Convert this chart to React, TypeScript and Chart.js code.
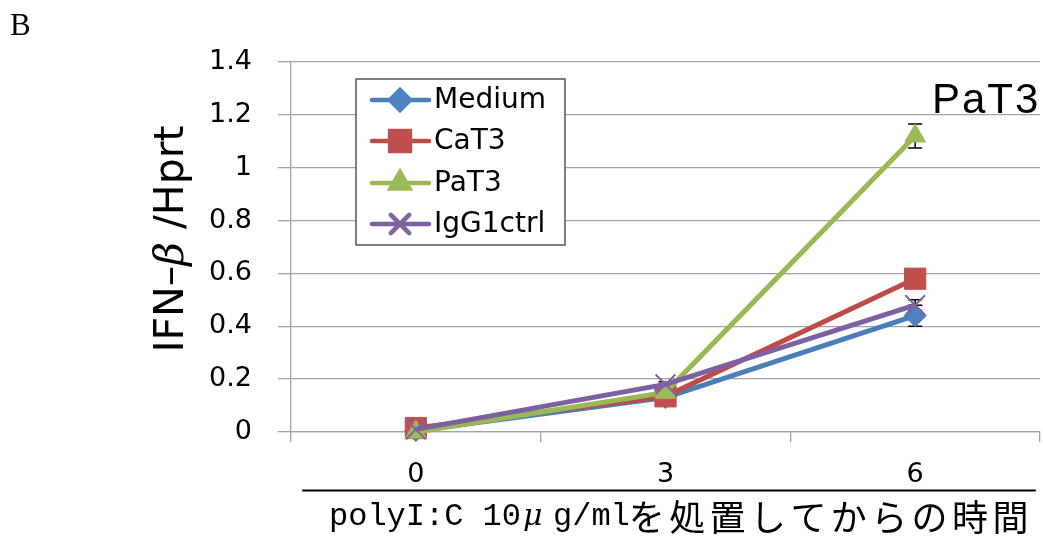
import React, { useEffect, useRef } from 'react';
import { Chart, registerables } from 'chart.js';
import { drawPoint } from 'chart.js/helpers';

Chart.register(...registerables);

// ---------- data ----------
const CATEGORIES = ['0', '3', '6'];
const SERIES_NAMES = ['Medium', 'CaT3', 'PaT3', 'IgG1ctrl'];
const MEDIUM = [0.005, 0.13, 0.44];
const CAT3 = [0.015, 0.135, 0.58];
const PAT3 = [0.0, 0.15, 1.12];
const IGG1CTRL = [0.01, 0.18, 0.48];
const MEDIUM_ERR = [0, 0.005, 0.04];
const CAT3_ERR = [0.005, 0.01, 0.01];
const PAT3_ERR = [0, 0.01, 0.045];
const IGG1CTRL_ERR = [0.005, 0.01, 0.02];
const Y_MIN = 0;
const Y_MAX = 1.4;
const Y_STEP = 0.2;
const Y_TITLE_PARTS = ['IFN\u2013', '\u03B2', ' /Hprt'];
const X_TITLE = 'polyI:C 10\u03BCg/mlを処置してからの時間';
const PANEL_LABEL = 'B';
const ANNOTATION = 'PaT3';

// ---------- styles ----------
const LINE_COLORS = ['#4A7EBB', '#BE4B48', '#98B954', '#7D60A0'];
const MARKER_COLORS = ['#4F81BD', '#C0504D', '#9BBB59', '#8064A2'];
const POINT_STYLES = ['rectRot', 'rect', 'triangle', 'crossRot'];
const POINT_RADII = [11, 15, 12, 14];
const POINT_BORDER = [1, 1, 1, 2];
const GRID = '#a2a2a2';
const SANS = '"DejaVu Sans", "Noto Sans", sans-serif';

const SERIES = [MEDIUM, CAT3, PAT3, IGG1CTRL];
const ERRORS = [MEDIUM_ERR, CAT3_ERR, PAT3_ERR, IGG1CTRL_ERR];

const errorBarPlugin = {
  id: 'errorBars',
  beforeDatasetsDraw(chart: any) {
    const { ctx, scales } = chart;
    const xs = scales.x;
    const ys = scales.y;
    ctx.save();
    ctx.strokeStyle = '#000';
    ctx.lineWidth = 1.5;
    SERIES.forEach((vals, i) => {
      vals.forEach((v, j) => {
        const e = ERRORS[i][j];
        if (!e) return;
        const x = xs.getPixelForValue(j);
        const yt = ys.getPixelForValue(v + e);
        const yb = ys.getPixelForValue(v - e);
        ctx.beginPath();
        ctx.moveTo(x, yt);
        ctx.lineTo(x, yb);
        ctx.moveTo(x - 7, yt);
        ctx.lineTo(x + 7, yt);
        ctx.moveTo(x - 7, yb);
        ctx.lineTo(x + 7, yb);
        ctx.stroke();
      });
    });
    ctx.restore();
  },
};

const decorPlugin = {
  id: 'decor',
  afterDraw(chart: any) {
    const { ctx, chartArea } = chart;
    ctx.save();

    // legend box
    const lx = chartArea.left + 65;
    const ly = chartArea.top + 17;
    const lw = 209;
    const lh = 166;
    ctx.fillStyle = '#fff';
    ctx.fillRect(lx, ly, lw, lh);
    ctx.strokeStyle = '#555';
    ctx.lineWidth = 1.5;
    ctx.strokeRect(lx, ly, lw, lh);
    const rowY = [21, 62, 104, 145];
    SERIES_NAMES.forEach((name, i) => {
      const y = ly + rowY[i];
      ctx.strokeStyle = LINE_COLORS[i];
      ctx.lineWidth = 4.5;
      ctx.lineCap = 'round';
      ctx.beginPath();
      ctx.moveTo(lx + 16, y);
      ctx.lineTo(lx + 73, y);
      ctx.stroke();
      ctx.fillStyle = MARKER_COLORS[i];
      ctx.strokeStyle = MARKER_COLORS[i];
      drawPoint(ctx, {
        pointStyle: POINT_STYLES[i],
        radius: POINT_RADII[i] - 1,
        rotation: 0,
        borderWidth: POINT_BORDER[i],
      } as any, lx + 44, y);
      ctx.fillStyle = '#000';
      ctx.font = `28px ${SANS}`;
      ctx.textAlign = 'left';
      ctx.textBaseline = 'middle';
      ctx.fillText(name, lx + 78, y + 1);
    });

    // panel label
    ctx.fillStyle = '#000';
    ctx.textBaseline = 'alphabetic';
    ctx.font = '31px "Liberation Serif", "DejaVu Serif", serif';
    ctx.fillText(PANEL_LABEL, 10, 35);

    // annotation
    ctx.font = '42px "Liberation Sans", Arial, sans-serif';
    (ctx as any).letterSpacing = '2px';
    ctx.fillText(ANNOTATION, 932, 113);
    (ctx as any).letterSpacing = '0px';

    // y title (rotated)
    const fonts = [`41px ${SANS}`, 'italic 41px "DejaVu Serif", serif', `41px ${SANS}`];
    let total = 0;
    const widths = Y_TITLE_PARTS.map((p, k) => {
      ctx.font = fonts[k];
      const w = ctx.measureText(p).width;
      total += w;
      return w;
    });
    ctx.save();
    ctx.translate(183, 239);
    ctx.rotate(-Math.PI / 2);
    let pos = -total / 2;
    Y_TITLE_PARTS.forEach((p, k) => {
      ctx.font = fonts[k];
      ctx.fillText(p, pos, 0);
      pos += widths[k];
    });
    ctx.restore();

    // black separator line
    ctx.strokeStyle = '#000';
    ctx.lineWidth = 2;
    ctx.beginPath();
    ctx.moveTo(303, 490.5);
    ctx.lineTo(1035, 490.5);
    ctx.stroke();

    // x title, character by character (mixed half/full width)
    let x = 329;
    for (const ch of X_TITLE) {
      const code = ch.codePointAt(0) || 0;
      if (code > 0x2000) {
        ctx.font = '36px "Noto Sans CJK JP", sans-serif';
        ctx.fillText(ch, x - 1, 531);
        x += 40.4;
      } else if (ch === '\u03BC') {
        ctx.font = 'italic 30px "DejaVu Serif", serif';
        ctx.fillText(ch, x + 2, 525);
        x += 32;
      } else {
        ctx.font = '32px "Liberation Mono", monospace';
        ctx.fillText(ch, x, 525);
        x += 19.2;
      }
    }
    ctx.restore();
  },
};

export default function App() {
  const ref = useRef<HTMLCanvasElement | null>(null);
  useEffect(() => {
    if (!ref.current) return;
    const chart = new Chart(ref.current, {
      type: 'line',
      data: {
        labels: CATEGORIES,
        datasets: SERIES_NAMES.map((name, i) => ({
          label: name,
          data: SERIES[i],
          borderColor: LINE_COLORS[i],
          backgroundColor: MARKER_COLORS[i],
          borderWidth: 5,
          pointStyle: POINT_STYLES[i] as any,
          pointRadius: POINT_RADII[i],
          pointBackgroundColor: MARKER_COLORS[i],
          pointBorderColor: MARKER_COLORS[i],
          pointBorderWidth: POINT_BORDER[i],
          tension: 0,
          order: SERIES_NAMES.length - i,
          clip: false as any,
        })),
      },
      options: {
        animation: false,
        responsive: false,
        maintainAspectRatio: false,
        layout: { autoPadding: false, padding: { top: 62, right: 3, left: 0, bottom: 0 } },
        plugins: { legend: { display: false }, tooltip: { enabled: false } },
        scales: {
          x: {
            type: 'category',
            offset: true,
            grid: {
              offset: true,
              drawOnChartArea: false,
              drawTicks: true,
              tickLength: 10,
              color: GRID,
              lineWidth: 1.3,
            },
            border: { color: GRID, width: 1.3 },
            ticks: {
              color: '#000',
              font: { family: SANS, size: 27 },
              padding: 17,
              maxRotation: 0,
            },
            afterFit(s: any) {
              s.height = 106;
            },
          },
          y: {
            min: Y_MIN,
            max: Y_MAX,
            ticks: {
              stepSize: Y_STEP,
              color: '#000',
              font: { family: SANS, size: 27 },
              padding: 26,
              callback: (v: any) => String(Math.round(Number(v) * 10) / 10),
            },
            grid: { color: GRID, lineWidth: 1.3, tickLength: 13 },
            border: { color: GRID, width: 1.3 },
            afterFit(s: any) {
              s.width = 291;
            },
          },
        },
      },
      plugins: [errorBarPlugin, decorPlugin],
    });
    return () => chart.destroy();
  }, []);
  return (
    <div style={{ position: 'absolute', left: 0, top: 0, width: 1043, height: 538, background: '#fff' }}>
      <canvas ref={ref} width={1043} height={538} />
    </div>
  );
}
